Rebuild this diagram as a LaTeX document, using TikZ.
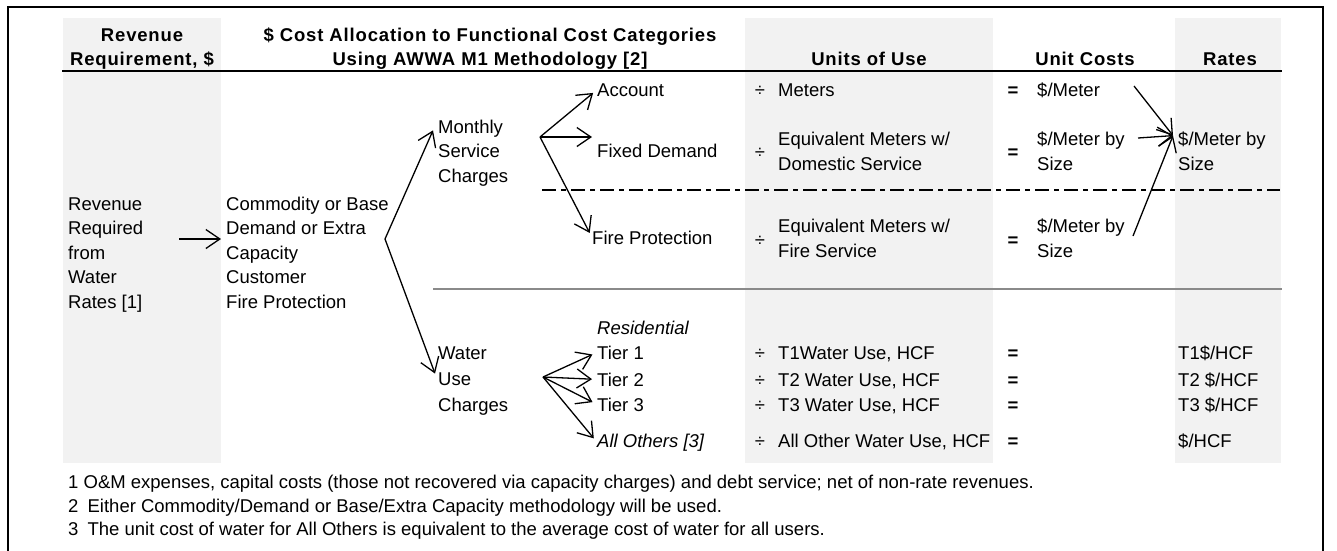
\documentclass[tikz,border=0pt]{standalone}
\usepackage{fontspec}
\setmainfont{Liberation Sans}
\usetikzlibrary{arrows.meta}

\definecolor{colfill}{HTML}{F2F2F2}
\definecolor{rulegray}{HTML}{8A8A8A}

\newcommand{\hdfont}{\fontsize{18.5}{24}\selectfont\bfseries\addfontfeature{LetterSpace=4.5}}
\newcommand{\bdfont}{\fontsize{18.5}{24.5}\selectfont}

\begin{document}
\begin{tikzpicture}[x=1pt,y=-1pt,
	txt/.style={anchor=base west,inner sep=0pt,align=left,font=\bdfont},
	op/.style={anchor=base,inner sep=0pt,font=\bdfont},
	eq/.style={op,font=\bdfont\bfseries},
	hdr/.style={anchor=base,inner sep=0pt,align=center,font=\hdfont},
	arr/.style={-{Straight Barb[length=14pt,width=19pt]},line width=1.3pt,shorten >=5pt}]
	\useasboundingbox (0,0) rectangle (1337,550);

	% shaded columns, frame and rules
	\fill[colfill] (63,18) rectangle (221,463);
	\fill[colfill] (745,18) rectangle (993,463);
	\fill[colfill] (1175,18) rectangle (1281,463);
	\draw[line width=2pt] (8,552) -- (8,7) -- (1323,7) -- (1323,552);
	\draw[line width=2pt] (62,71) -- (1282,71);
	\draw[line width=1.8pt,dash pattern=on 14pt off 5pt on 5pt off 5pt] (542,190) -- (1280,190);
	\draw[rulegray,line width=2.5pt] (433,289) -- (1282,289);

	% column heads (base = last line)
	\node[hdr]	(hrev)	at (142,65)		{Revenue\\Requirement, \$};
	\node[hdr]	(hcost)	at (490,65)		{\$ Cost Allocation to Functional Cost Categories\\Using AWWA M1 Methodology [2]};
	\node[hdr]	(huse)	at (869,65)		{Units of Use};
	\node[hdr]	(hunit)	at (1085,65)	{Unit Costs};
	\node[hdr]	(hrate)	at (1230,65)	{Rates};

	\node[txt]	(rev)	at (68,308)		{Revenue\\Required\\from\\Water\\Rates [1]};
	\node[txt]	(cat)	at (226,308)	{Commodity or Base\\Demand or Extra\\Capacity\\Customer\\Fire Protection};
	\node[txt]	(mon)	at (438,182)	{Monthly\\Service\\Charges};
	\node[txt]	(wat)	at (438,411)	{Water\\[1.5pt]Use\\[1pt]Charges};

	\node[txt]	(acc)	at (597,96)		{Account};
	\node[txt]	(fix)	at (597,157)	{Fixed Demand};
	\node[txt]	(fpr)	at (592,244)	{Fire Protection};
	\node[txt,font=\bdfont\itshape]	(res)	at (597,334)	{Residential};
	\node[txt]	(t1)	at (597,359)	{Tier 1};
	\node[txt]	(t2)	at (597,386)	{Tier 2};
	\node[txt]	(t3)	at (597,411)	{Tier 3};
	\node[txt,font=\bdfont\itshape]	(oth)	at (597,447)	{All Others [3]};

	% units of use, unit costs, rates
	\node[op]	(d1)	at (760,96)		{÷};
	\node[txt]	(u1)	at (778,96)		{Meters};
	\node[eq]	(e1)	at (1013,96)	{=};
	\node[txt]	(c1)	at (1037,96)	{\$/Meter};
	\node[op]	(d2)	at (760,158)	{÷};
	\node[txt]	(u2)	at (778,170)	{Equivalent Meters w/\\Domestic Service};
	\node[eq]	(e2)	at (1013,158)	{=};
	\node[txt]	(c2)	at (1037,170)	{\$/Meter by\\Size};
	\node[txt]	(r1)	at (1178,170)	{\$/Meter by\\Size};
	\node[op]	(d3)	at (760,246)	{÷};
	\node[txt]	(u3)	at (778,257)	{Equivalent Meters w/\\Fire Service};
	\node[eq]	(e3)	at (1013,246)	{=};
	\node[txt]	(c3)	at (1037,257)	{\$/Meter by\\Size};

	\node[op]	(d4)	at (760,359)	{÷};
	\node[txt]	(u4)	at (778,359)	{T1Water Use, HCF};
	\node[eq]	(e4)	at (1013,359)	{=};
	\node[txt]	(r4)	at (1178,359)	{T1\$/HCF};
	\node[op]	(d5)	at (760,386)	{÷};
	\node[txt]	(u5)	at (778,386)	{T2 Water Use, HCF};
	\node[eq]	(e5)	at (1013,386)	{=};
	\node[txt]	(r5)	at (1178,386)	{T2 \$/HCF};
	\node[op]	(d6)	at (760,411)	{÷};
	\node[txt]	(u6)	at (778,411)	{T3 Water Use, HCF};
	\node[eq]	(e6)	at (1013,411)	{=};
	\node[txt]	(r6)	at (1178,411)	{T3 \$/HCF};
	\node[op]	(d7)	at (760,447)	{÷};
	\node[txt]	(u7)	at (778,447)	{All Other Water Use, HCF};
	\node[eq]	(e7)	at (1013,447)	{=};
	\node[txt]	(r7)	at (1178,447)	{\$/HCF};

	% notes
	\node[txt]	(n1)	at (68,488)		{1 O\&M expenses, capital costs (those not recovered via capacity charges) and debt service; net of non-rate revenues.};
	\node[txt]	(n2)	at (68,512)		{2\hspace{4pt} Either Commodity/Demand or Base/Extra Capacity methodology will be used.};
	\node[txt]	(n3)	at (68,535)		{3\hspace{4pt} The unit cost of water for All Others is equivalent to the average cost of water for all users.};

	% branch points
	\coordinate (a0) at (179,239);
	\coordinate (f0) at (385,239);
	\coordinate (f1) at (540,137);
	\coordinate (f2) at (543,377);
	\coordinate (s1) at (1134,86);
	\coordinate (s2) at (1138,138);
	\coordinate (s3) at (1133,236);
	\coordinate (tip) at ([shift={(-5pt,-4pt)}]r1.north west);

	\path[arr]
		(a0)	edge	(a0 -| cat.west)
		(f1)	edge	(acc.west)
		(f1)	edge	(f1 -| fix.west)
		(f1)	edge	(fpr.west)
		(f2)	edge	(t1.west)
		(f2)	edge	(t2.west)
		(f2)	edge	(t3.west)
		(f2)	edge	(oth.west)
		;
	\path[arr,shorten >=0pt]
		(f0)	edge	([shift={(-5pt,-11pt)}]mon.north west)
		(f0)	edge	([shift={(-3pt,-27pt)}]wat.north west)
		(s1)	edge	(tip)
		(s2)	edge	(tip)
		(s3)	edge	(tip)
		;
\end{tikzpicture}
\end{document}
